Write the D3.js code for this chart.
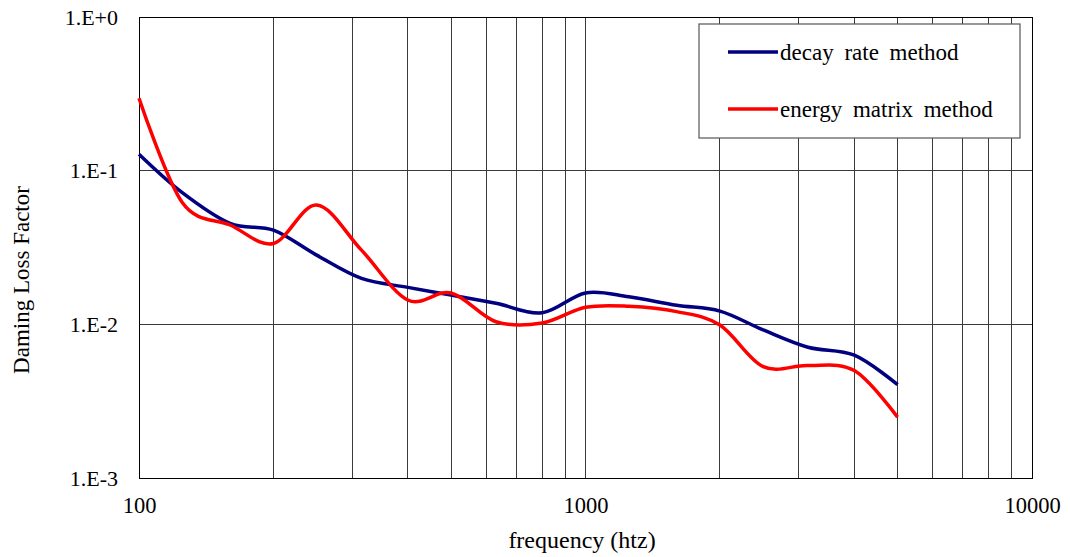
<!DOCTYPE html>
<html>
<head>
<meta charset="utf-8">
<script src="https://cdn.jsdelivr.net/npm/d3@7"></script>
<style>
  body { margin: 0; background: #fff; }
  svg text { font-family: "Liberation Serif", "Times New Roman", serif; fill: #000; }
</style>
</head>
<body>
<svg id="chart" width="1070" height="557"></svg>
<script>
// third-octave band centres (Hz)
const freqs = [100, 125, 160, 200, 250, 315, 400, 500, 630, 800, 1000, 1250, 1600, 2000, 2500, 3150, 4000, 5000];
// damping loss factor
const decayRate = [0.128, 0.072, 0.0454, 0.041, 0.0282, 0.0199, 0.0174, 0.0155, 0.0137, 0.0119, 0.016, 0.0151, 0.0133, 0.0122, 0.0092, 0.0071, 0.0063, 0.00405];
const energyMatrix = [0.296, 0.062, 0.0443, 0.0336, 0.0598, 0.0304, 0.0144, 0.016, 0.0104, 0.0102, 0.0129, 0.0131, 0.0121, 0.0099, 0.0053, 0.0054, 0.0050, 0.00249];
const seriesNames = ['decay rate method', 'energy matrix method'];
const xTickLabels = [100, 1000, 10000];
const yTickValues = [1e-3, 1e-2, 1e-1, 1];

const margin = {top: 17, right: 38, bottom: 79, left: 139},
    W = 1070, H = 557,
    width = W - margin.left - margin.right,
    height = H - margin.top - margin.bottom,
    colors = ['#000080', '#ff0000'];

const svg = d3.select('#chart');
const g = svg.append('g').attr('transform', 'translate(' + margin.left + ',' + margin.top + ')');

const x = d3.scaleLog().domain([100, 10000]).range([0, width]);
const y = d3.scaleLog().domain([1e-3, 1]).range([height, 0]);

// grid
g.append('g').selectAll('line')
  .data(x.ticks())
  .enter().append('line')
  .attr('x1', d => x(d)).attr('x2', d => x(d))
  .attr('y1', 0).attr('y2', height)
  .attr('stroke', '#3a3a3a').attr('stroke-width', 1)
  .attr('shape-rendering', 'crispEdges');

g.append('g').selectAll('line')
  .data(yTickValues)
  .enter().append('line')
  .attr('x1', 0).attr('x2', width)
  .attr('y1', d => y(d)).attr('y2', d => y(d))
  .attr('stroke', '#3a3a3a').attr('stroke-width', 1)
  .attr('shape-rendering', 'crispEdges');

g.append('rect')
  .attr('width', width).attr('height', height)
  .attr('fill', 'none').attr('stroke', '#000')
  .attr('shape-rendering', 'crispEdges');

// axes (labels only)
const fmtExp = d => {
  const e = Math.round(Math.log10(d));
  return '1.E' + (e >= 0 ? '+' + e : e);
};

const yAxis = g.append('g')
  .call(d3.axisLeft(y).tickValues(yTickValues).tickFormat(fmtExp).tickSize(0).tickPadding(21));
yAxis.select('.domain').remove();
yAxis.selectAll('text')
  .style('font-family', '"Liberation Serif", serif')
  .style('font-size', '22px')
  .attr('dy', '0.33em');

const xAxis = g.append('g')
  .attr('transform', 'translate(0,' + height + ')')
  .call(d3.axisBottom(x).tickValues(xTickLabels).tickFormat(d3.format('d')).tickSize(0).tickPadding(19));
xAxis.select('.domain').remove();
xAxis.selectAll('text')
  .style('font-family', '"Liberation Serif", serif')
  .style('font-size', '22.5px')
  .attr('dy', '0.71em');

// axis titles
svg.append('text')
  .attr('x', 582).attr('y', 548)
  .attr('text-anchor', 'middle')
  .style('font-size', '24px')
  .text('frequency (htz)');

svg.append('text')
  .attr('transform', 'translate(29,280) rotate(-90)')
  .attr('text-anchor', 'middle')
  .style('font-size', '23px')
  .text('Daming Loss Factor');

// series
const line = d3.line()
  .x(d => x(d[0]))
  .y(d => y(d[1]))
  .curve(d3.curveCardinal.tension(0));

[decayRate, energyMatrix].forEach((vals, i) => {
  g.append('path')
    .datum(freqs.map((f, j) => [f, vals[j]]))
    .attr('d', line)
    .attr('fill', 'none')
    .attr('stroke', colors[i])
    .attr('stroke-width', 3.5)
    .attr('stroke-linejoin', 'round');
});

// legend
const legend = svg.append('g').attr('transform', 'translate(699,24)');
legend.append('rect')
  .attr('width', 321).attr('height', 114)
  .attr('fill', '#fff').attr('stroke', '#555').attr('stroke-width', 1.2);

const item = legend.selectAll('.item')
  .data(seriesNames)
  .enter().append('g')
  .attr('transform', (d, i) => 'translate(0,' + (28 + i * 57) + ')');

item.append('line')
  .attr('x1', 29).attr('x2', 79)
  .attr('stroke', (d, i) => colors[i])
  .attr('stroke-width', 3.5);

item.append('text')
  .attr('x', 81).attr('dy', '0.33em')
  .style('font-size', '23px')
  .style('word-spacing', '5px')
  .text(d => d);
</script>
</body>
</html>
